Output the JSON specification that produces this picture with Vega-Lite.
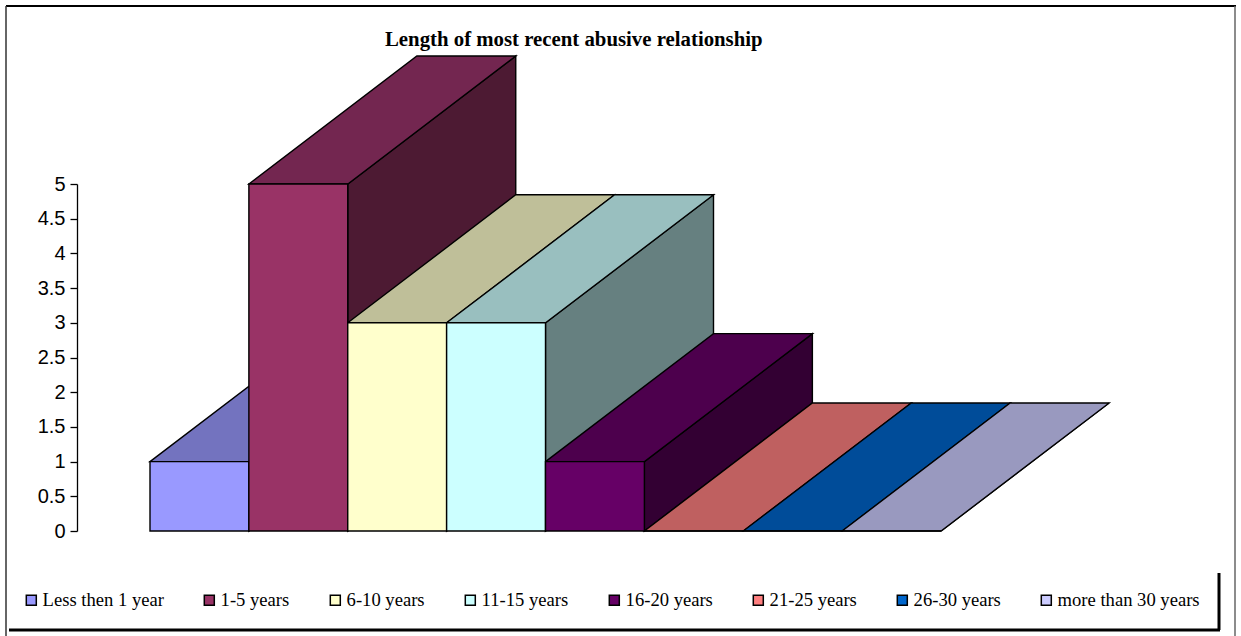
{
"$schema":"https://vega.github.io/schema/vega-lite/v6.json",
"width":1241,"height":636,"padding":0,"autosize":{"type":"none"},"background":"white",
"config":{"view":{"stroke":null}},
"title":{"text":"Length of most recent abusive relationship","font":"Liberation Serif","fontSize":20.8,"fontWeight":"bold","color":"black","anchor":"start","frame":"group","dx":385,"offset":-46,"baseline":"alphabetic","dy":21},
"data":{"values":[
{"category":"Less then 1 year","value":1},
{"category":"1-5 years","value":5},
{"category":"6-10 years","value":3},
{"category":"11-15 years","value":3},
{"category":"16-20 years","value":1},
{"category":"21-25 years","value":0},
{"category":"26-30 years","value":0},
{"category":"more than 30 years","value":0}
]},
"encoding":{
"x":{"field":"category","type":"nominal","axis":null,"scale":{"type":"band","domain":["Less then 1 year","1-5 years","6-10 years","11-15 years","16-20 years","21-25 years","26-30 years","more than 30 years"],"range":[150,941],"paddingInner":0,"paddingOuter":0}},
"y":{"field":"value","type":"quantitative","scale":{"domain":[0,5],"range":[531,184],"nice":false},"axis":{"title":null,"values":[0,0.5,1,1.5,2,2.5,3,3.5,4,4.5,5],"format":"~g","offset":-77,"grid":false,"domainColor":"black","domainWidth":1.3,"tickColor":"black","tickWidth":1.3,"tickSize":7,"labelPadding":5,"labelFont":"Liberation Sans","labelFontSize":20,"labelColor":"black"}}
},
"layer":[
{"transform":[{"filter":"datum.value==1 && datum.category=='Less then 1 year'"}],
 "mark":{"type":"point","filled":true,"opacity":1,"shape":"M0 0L99 0L267 -128L168 -128Z","size":4,"stroke":"black","strokeWidth":1.4},
 "encoding":{"x":{"field":"category","type":"nominal","bandPosition":0},"fill":{"value":"#7373BF"}}},
{"mark":{"type":"point","filled":true,"opacity":1,"size":4,"stroke":"black","strokeWidth":1.4},
 "encoding":{"x":{"field":"category","type":"nominal","bandPosition":1},
 "shape":{"field":"value","type":"nominal","legend":null,"scale":{"domain":[0,1,3,5],"range":["M0 0L168 -128Z","M0 0L168 -128L168 -58.6L0 69.4Z","M0 0L168 -128L168 80.2L0 208.2Z","M0 0L168 -128L168 219L0 347Z"]}},
 "fill":{"field":"category","type":"nominal","legend":null,"sort":null,"scale":{"domain":["Less then 1 year","1-5 years","6-10 years","11-15 years","16-20 years","21-25 years","26-30 years","more than 30 years"],"range":["#4D4D80","#4D1A33","#808066","#668080","#330033","#804040","#003366","#666680"]}}}},
{"transform":[{"filter":"datum.category!='Less then 1 year'"}],
 "mark":{"type":"point","filled":true,"opacity":1,"shape":"M0 0L99 0L267 -128L168 -128Z","size":4,"stroke":"black","strokeWidth":1.4},
 "encoding":{"x":{"field":"category","type":"nominal","bandPosition":0},
 "fill":{"field":"category","type":"nominal","legend":null,"sort":null,"scale":{"domain":["Less then 1 year","1-5 years","6-10 years","11-15 years","16-20 years","21-25 years","26-30 years","more than 30 years"],"range":["#7373BF","#732650","#BFBF99","#99BFBF","#4D004D","#BF6060","#004C99","#9999BF"]}}}},
{"mark":{"type":"bar","stroke":"black","strokeWidth":1.4},
 "encoding":{"fill":{"field":"category","type":"nominal","sort":null,"title":null,
 "scale":{"domain":["Less then 1 year","1-5 years","6-10 years","11-15 years","16-20 years","21-25 years","26-30 years","more than 30 years"],"range":["#9999FF","#993366","#FFFFCC","#CCFFFF","#660066","#FF8080","#0066CC","#CCCCFF"]},
 "legend":{"orient":"none","legendX":22,"legendY":591,"direction":"horizontal","columns":8,"columnPadding":36,"symbolType":"square","symbolSize":100,"symbolStrokeColor":"black","symbolStrokeWidth":1.5,"labelFont":"Liberation Serif","labelFontSize":18.6,"labelColor":"black","labelOffset":2,"labelLimit":300,"padding":0}}}},
{"data":{"values":[{}]},"mark":{"type":"rule","color":"black","strokeWidth":2},"encoding":{"x":{"value":6},"x2":{"value":1236},"y":{"value":6}}},
{"data":{"values":[{}]},"mark":{"type":"rule","color":"#333333","strokeWidth":1.5},"encoding":{"x":{"value":6},"y":{"value":6},"y2":{"value":636}}},
{"data":{"values":[{}]},"mark":{"type":"rule","color":"#666666","strokeWidth":1.5},"encoding":{"x":{"value":1235},"y":{"value":6},"y2":{"value":636}}},
{"data":{"values":[{}]},"mark":{"type":"rule","color":"black","strokeWidth":3},"encoding":{"x":{"value":9},"x2":{"value":1220},"y":{"value":630}}},
{"data":{"values":[{}]},"mark":{"type":"rule","color":"black","strokeWidth":3},"encoding":{"x":{"value":1219},"y":{"value":573},"y2":{"value":630}}}
],
"resolve":{"scale":{"fill":"independent","shape":"independent"}}
}
